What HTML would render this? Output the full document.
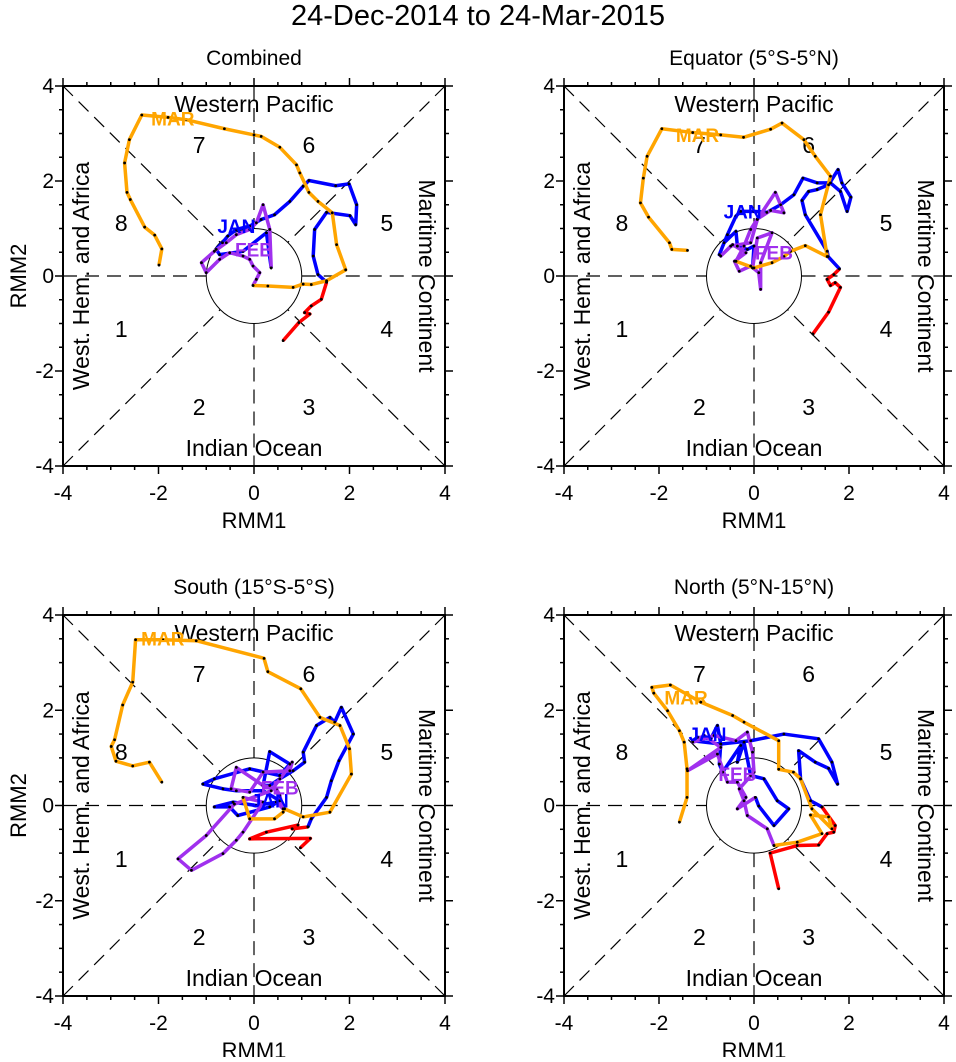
<!DOCTYPE html>
<html><head><meta charset="utf-8"><style>
body{margin:0;background:#fff;}
svg text{font-family:"Liberation Sans",sans-serif;}
</style></head><body>
<svg id="chart" width="956" height="1057" viewBox="0 0 956 1057" xmlns="http://www.w3.org/2000/svg">
<text x="478" y="25" font-size="29" text-anchor="middle">24-Dec-2014 to 24-Mar-2015</text>
</svg>
<script>
const NS="http://www.w3.org/2000/svg";
const svg=document.getElementById('chart');
const panelTitles=["Combined","Equator (5°S-5°N)","South (15°S-5°S)","North (5°N-15°N)"];
const tickVals=[-4,-2,0,2,4];
// RMM1/RMM2 trajectories per panel: [red(Dec), blue(Jan), purple(Feb), orange(Mar)]
const p1Red1=[0.61,0.94,1.17,1.06,1.20,1.41,1.52];
const p1Red2=[-1.36,-0.98,-0.80,-0.77,-0.63,-0.49,-0.13];
const p1Blue1=[1.52,1.34,1.24,1.27,1.52,2.01,2.13,2.15,1.99,1.71,1.15,1.03,0.75,0.43,0.15,-0.09,-0.37,-0.55,-0.66,-0.79,-0.72,-0.23,0.26,0.36];
const p1Blue2=[-0.13,0.03,0.42,0.98,1.34,1.27,1.08,1.50,1.94,1.90,2.01,1.89,1.57,1.29,1.19,1.05,0.98,0.84,0.70,0.56,0.45,0.52,0.91,0.17];
const p1Pur1=[0.36,0.33,0.19,0.05,-0.09,-0.37,-0.58,-0.83,-1.10,-1.0,-0.72,-0.51,-0.23,-0.09,-0.02,0.12,0.05,-0.02];
const p1Pur2=[0.17,0.98,1.50,1.12,0.98,0.87,0.70,0.52,0.28,0.07,0.35,0.49,0.42,0.35,0.21,0.07,-0.07,-0.20];
const p1Ora1=[-0.02,0.29,0.82,1.03,1.20,1.52,1.92,1.73,1.64,1.34,1.15,0.96,0.89,0.54,0.15,0,-0.62,-1.42,-1.80,-2.35,-2.61,-2.71,-2.66,-2.59,-2.29,-2.08,-1.93,-1.99];
const p1Ora2=[-0.20,-0.21,-0.24,-0.17,-0.18,-0.10,0.13,0.66,1.33,1.57,1.76,2.17,2.34,2.71,2.94,2.97,3.10,3.29,3.34,3.39,2.87,2.38,1.76,1.61,1.03,0.86,0.57,0.23];

const p2Red1=[1.24,1.57,1.82,1.71,1.61,1.54,1.68,1.80];
const p2Red2=[-1.22,-0.76,-0.24,-0.14,-0.20,-0.07,0.03,0.15];
const p2Blue1=[1.80,1.56,1.54,1.08,1.01,1.15,1.33,1.57,1.77,1.85,2.04,1.96,1.82,1.61,1.33,1.03,0.84,0.56,0.27,0,-0.28,-0.38,-0.56,-0.73,-0.63,-0.38,-0.35,-0.14,0,-0.03];
const p2Blue2=[0.15,0.41,0.52,1.29,1.59,1.78,1.82,1.92,2.24,1.96,1.66,1.36,1.78,1.96,1.96,2.06,1.71,1.50,1.34,1.36,1.36,1.26,0.87,0.45,0.70,0.94,0.63,0.56,0.63,0.17];
const p2Pur1=[-0.03,0.07,0.38,0.14,0.14,0.10,-0.07,-0.31,-0.41,-0.17,-0.45,-0.70,-0.49,-0.07,0.07,0.45,0.63,0.35,0.07,-0.07,-0.21,-0.38];
const p2Pur2=[0.17,0.80,0.91,0.28,-0.28,0.07,0.21,0.10,0.31,0.49,0.66,0.42,0.63,0.70,1.19,1.76,1.33,1.38,1.20,0.98,0.63,0.31];
const p2Ora1=[-0.38,0,0.38,0.63,0.77,1.08,1.54,1.40,1.61,1.29,1.05,0.59,0.35,-0.22,-0.70,-1.29,-1.94,-2.25,-2.33,-2.39,-2.22,-1.78,-1.73,-1.40];
const p2Ora2=[0.31,0.17,0.28,0.41,0.52,0.64,0.41,1.29,2.10,2.52,2.87,3.22,3.09,2.92,2.97,3.02,3.10,2.52,2.06,1.54,1.24,0.70,0.56,0.54];

const p3Red1=[0.97,1.18,-0.09,0.26,0.92,0.80,1.13];
const p3Red2=[-0.89,-0.69,-0.70,-0.56,-0.41,-0.49,-0.45];
const p3Blue1=[1.13,1.20,1.52,1.62,1.78,2.08,1.83,1.69,1.59,1.31,1.03,1.06,0.82,0.54,0.33,0.19,0.33,0.75,0.54,-0.09,-0.83,-1.07,-0.65,-0.37,0.19,0.54,0.33,-0.34,-0.51,-0.83,-0.44,0.05,0.47];
const p3Blue2=[-0.45,-0.28,0.17,0.52,0.94,1.50,2.06,1.75,1.85,1.68,1.12,0.91,0.73,0.56,0.42,0.42,1.13,0.87,0.63,0.77,0.56,0.45,0.35,0.31,0.31,0.10,-0.03,-0.21,-0.03,-0.03,0.07,0,0.07];
const p3Pur1=[0.47,0.61,0.54,0.47,0.19,-0.37,-0.48,-0.09,0.19,0.75,0.80,0.36,-0.41,-1.0,-1.59,-1.31,-0.65,-0.37,-0.23,0.19,-0.23];
const p3Pur2=[0.07,-0.07,0.21,0.35,0.42,0.80,0.35,0.28,0.70,0.73,0.91,0.31,0.03,-0.63,-1.12,-1.36,-1.01,-0.73,-0.56,0.07,0.17];
const p3Ora1=[-0.23,-0.09,0.43,0.61,0.64,1.03,1.59,2.04,2.0,1.80,1.38,0.98,0.29,0.21,-1.21,-1.91,-2.48,-2.54,-2.75,-2.92,-2.99,-2.89,-2.54,-2.19,-1.93];
const p3Ora2=[0.17,-0.28,-0.28,-0.14,-0.07,-0.24,-0.14,0.66,1.19,1.68,1.85,2.45,2.81,3.09,3.46,3.48,3.48,2.59,2.11,1.38,1.24,0.93,0.83,0.91,0.49];

const p4Red1=[0.52,0.34,0.91,1.36,1.54,1.68,1.71,1.43];
const p4Red2=[-1.75,-1.0,-0.84,-0.83,-0.59,-0.56,-0.42,-0.03];
const p4Blue1=[1.43,1.19,0.98,0.94,1.29,1.57,1.76,1.64,1.36,0.63,-0.07,-0.70,-0.77,-0.91,-1.19,-1.29,-0.70,-0.73,-0.66,-0.28,-0.35,-0.21,-0.07,0.21,0.49,0.73,0.42,0.10,0.03];
const p4Blue2=[-0.03,0.10,0.56,1.15,0.91,0.78,0.45,0.91,1.40,1.50,1.36,1.29,1.68,1.40,1.43,1.36,1.29,0.87,0.70,1.26,0.91,1.33,0.63,0.56,0.10,-0.07,-0.42,-0.01,0.17];
const p4Pur1=[0.03,-0.35,-0.17,-0.35,-0.56,-0.77,-1.40,-0.70,-1.05,-1.29,-0.84,-0.38,-0.14,-0.03,0,-0.31,-0.21,-0.14,0.28,0.42];
const p4Pur2=[0.17,-0.07,0.17,0.49,0.49,1.08,0.73,1.22,1.47,1.33,1.47,1.36,1.54,1.12,0.70,0.35,0.10,-0.21,-0.49,-0.84];
const p4Ora1=[0.42,0.91,1.43,1.19,1.57,1.64,1.22,0.98,0.83,0.52,0.52,-0.21,-0.45,-1.12,-1.76,-2.15,-2.11,-1.82,-1.57,-1.47,-1.41,-1.41,-1.57];
const p4Ora2=[-0.84,-0.77,-0.59,-0.20,-0.24,-0.49,-0.07,0.56,0.70,0.76,1.36,1.75,1.89,2.17,2.53,2.48,2.36,1.99,1.57,1.33,0.77,0.17,-0.35];

const monthLabelX=[[-0.37,0,-1.7],[-0.24,0.42,-1.19],[0.33,0.54,-1.91],[-0.98,-0.35,-1.43]];
const monthLabelY=[[1.05,0.56,3.32],[1.36,0.49,2.97],[0.10,0.38,3.51],[1.50,0.66,2.27]];
const monthNames=["JAN","FEB","MAR"];
const monthColors=["#0000ff","#a030ee","#ffa500"];

const panels=[
 {x0:63,x1:445,y0:86,y1:466,series:[[p1Red1,p1Red2],[p1Blue1,p1Blue2],[p1Pur1,p1Pur2],[p1Ora1,p1Ora2]],ylab:true},
 {x0:564,x1:944,y0:86,y1:466,series:[[p2Red1,p2Red2],[p2Blue1,p2Blue2],[p2Pur1,p2Pur2],[p2Ora1,p2Ora2]],ylab:false},
 {x0:63,x1:445,y0:615,y1:996,series:[[p3Red1,p3Red2],[p3Blue1,p3Blue2],[p3Pur1,p3Pur2],[p3Ora1,p3Ora2]],ylab:true},
 {x0:564,x1:944,y0:615,y1:996,series:[[p4Red1,p4Red2],[p4Blue1,p4Blue2],[p4Pur1,p4Pur2],[p4Ora1,p4Ora2]],ylab:false}
];
const seriesColors=["#ff0000","#0000ff","#a030ee","#ffa500"];
const seriesNames=["dec-track","jan-track","feb-track","mar-track"];

function mk(tag,attrs,parent){const e=document.createElementNS(NS,tag);for(const k in attrs)e.setAttribute(k,attrs[k]);(parent||svg).appendChild(e);return e;}

panels.forEach((p,i)=>{
 const g=mk('g',{});
 
 
 const sx=v=>p.x0+(v+4)/8*(p.x1-p.x0);
 const sy=v=>p.y1-(v+4)/8*(p.y1-p.y0);
 const cx=sx(0),cy=sy(0);
 const t=mk('text',{x:(p.x0+p.x1)/2,y:p.y0-21,'font-size':21,'text-anchor':'middle'},g);t.textContent=panelTitles[i];
 
 
 const ri=Math.SQRT1_2;
 const dl=(a,b,c,d)=>{const l=mk('line',{x1:a,y1:b,x2:c,y2:d,stroke:'#000','stroke-width':1.2,'stroke-dasharray':'14,8'},g);};
 dl(sx(-4),cy,sx(-1),cy);dl(sx(1),cy,sx(4),cy);
 dl(cx,sy(4),cx,sy(1));dl(cx,sy(-1),cx,sy(-4));
 dl(sx(-4),sy(4),sx(-ri),sy(ri));dl(sx(4),sy(4),sx(ri),sy(ri));
 dl(sx(-4),sy(-4),sx(-ri),sy(-ri));dl(sx(4),sy(-4),sx(ri),sy(-ri));
 const c=mk('ellipse',{cx:cx,cy:cy,rx:sx(1)-cx,ry:cy-sy(1),fill:'none',stroke:'#000','stroke-width':1},g);
 
 const fr=mk('rect',{x:p.x0,y:p.y0,width:p.x1-p.x0,height:p.y1-p.y0,fill:'none',stroke:'#000','stroke-width':2},g);
 
 for(let v=-4;v<=4.001;v+=0.5){
  const major=Math.abs(v%2)<0.01, L=major?8:4;
  mk('line',{x1:sx(v),y1:p.y1,x2:sx(v),y2:p.y1+L,stroke:'#000','stroke-width':1.5},g);
  mk('line',{x1:sx(v),y1:p.y0,x2:sx(v),y2:p.y0-L,stroke:'#000','stroke-width':1.5},g);
  mk('line',{x1:p.x0,y1:sy(v),x2:p.x0-L,y2:sy(v),stroke:'#000','stroke-width':1.5},g);
  mk('line',{x1:p.x1,y1:sy(v),x2:p.x1+L,y2:sy(v),stroke:'#000','stroke-width':1.5},g);
 }
 tickVals.forEach(v=>{
  const a=mk('text',{x:sx(v),y:p.y1+34,'font-size':21,'text-anchor':'middle'},g);a.textContent=v;
  
  const b=mk('text',{x:p.x0-9,y:sy(v)+7,'font-size':21,'text-anchor':'end'},g);b.textContent=v;
  
 });
 const xl=mk('text',{x:cx,y:p.y1+62,'font-size':22,'text-anchor':'middle'},g);xl.textContent='RMM1';
 
 if(p.ylab){const yl=mk('text',{x:0,y:0,'font-size':22,'text-anchor':'middle',transform:`translate(26,${cy}) rotate(-90)`},g);yl.textContent='RMM2';
  }
 const rl=(txt,x,y,rot,name,fs)=>{const e=mk('text',{x:0,y:0,'font-size':fs,'text-anchor':'middle',transform:`translate(${x},${y}) rotate(${rot})`},g);e.textContent=txt;};
 rl('Western Pacific',cx,sy(3.62)+8,0,'region-label',23);
 rl('Indian Ocean',cx,sy(-3.62)+8,0,'region-label',23);
 rl('West. Hem. and Africa',sx(-3.62)+8,cy,-90,'region-label',23);
 rl('Maritime Continent',sx(3.62)-8,cy,90,'region-label',23);
 const phX=[-2.78,-1.15,1.15,2.78,2.78,1.15,-1.15,-2.78], phY=[-1.12,-2.76,-2.76,-1.12,1.12,2.76,2.76,1.12];
 phX.forEach((x,k)=>rl(String(k+1),sx(x),sy(phY[k])+8,0,'phase-number',23));
 p.series.forEach((s,k)=>{
  const pts=s[0].map((x,j)=>sx(x)+','+sy(s[1][j])).join(' ');
  const pl=mk('polyline',{points:pts,fill:'none',stroke:seriesColors[k],'stroke-width':3.5,'stroke-linejoin':'round'},g);
  
  
 });
 p.series.forEach((s,k)=>{s[0].forEach((x,j)=>{
  const d=mk('circle',{cx:sx(x),cy:sy(s[1][j]),r:1.4,fill:'#000'},g);
  
  
 });});
 monthNames.forEach((m,k)=>{
  const e=mk('text',{x:sx(monthLabelX[i][k]),y:sy(monthLabelY[i][k])+7,'font-size':19,'font-weight':'bold',fill:monthColors[k],'text-anchor':'middle'},g);
  e.textContent=m;
  
  
 });
});
</script>
</body></html>
